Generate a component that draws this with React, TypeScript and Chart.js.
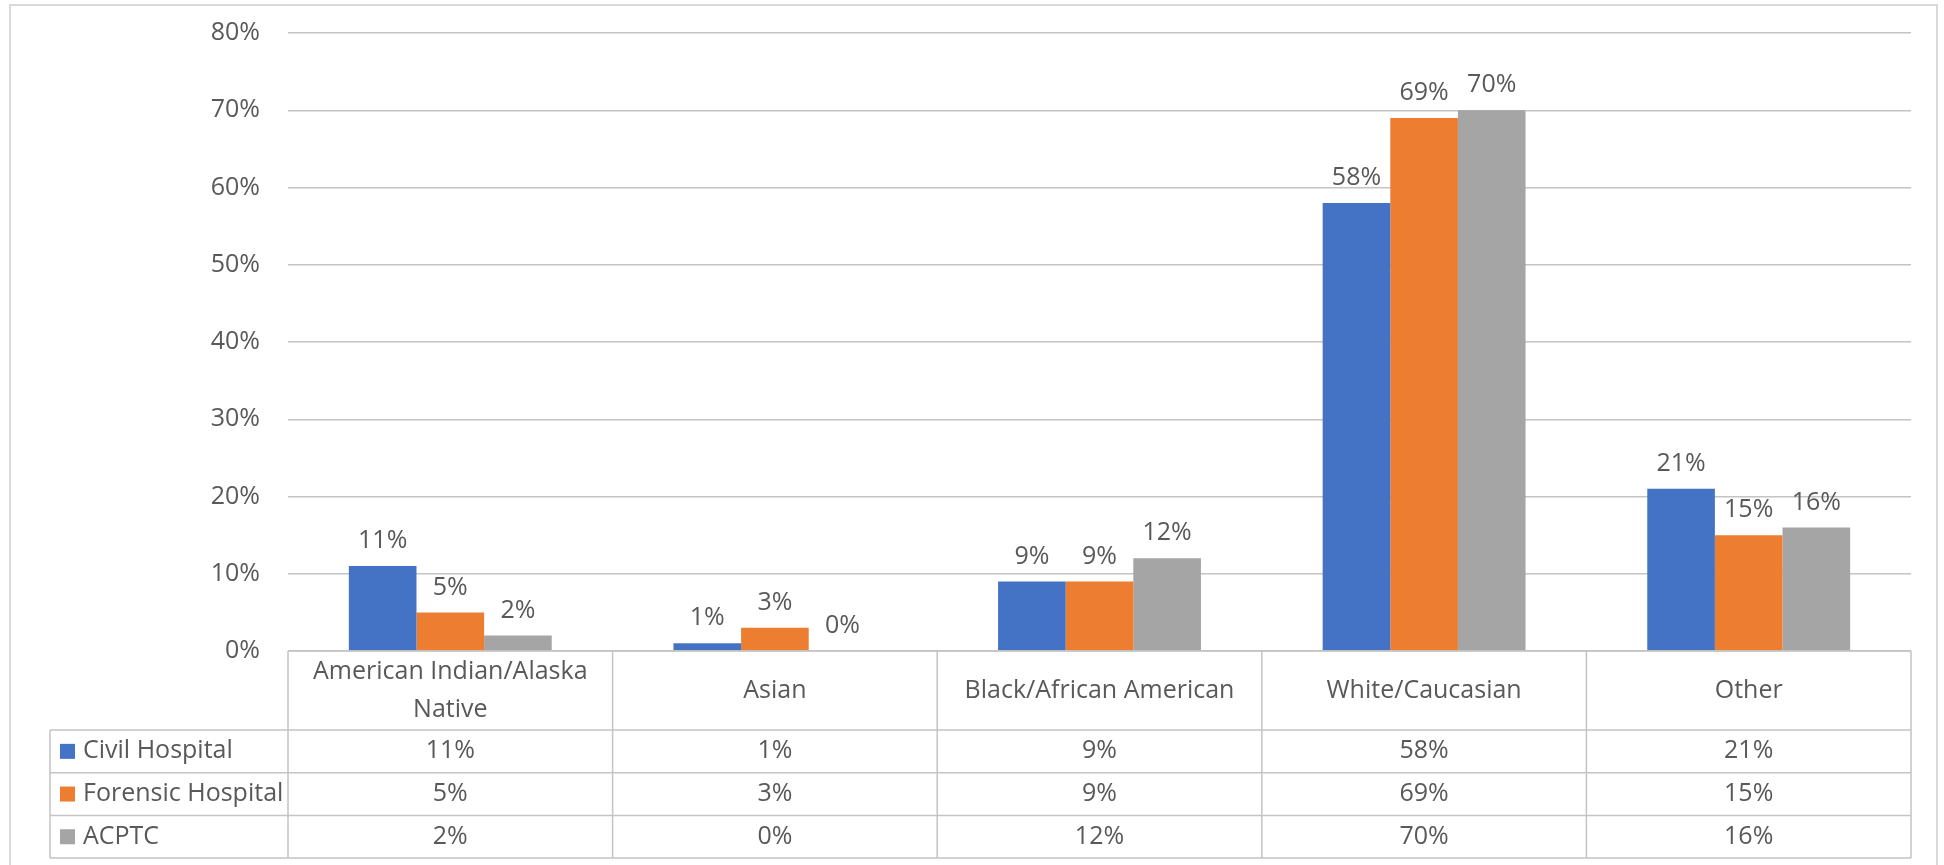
import { useEffect, useRef } from "react";
import { Chart, registerables } from "chart.js";

Chart.register(...registerables);

const categories = [
  "American Indian/Alaska Native",
  "Asian",
  "Black/African American",
  "White/Caucasian",
  "Other",
];
const seriesNames = ["Civil Hospital", "Forensic Hospital", "ACPTC"];
const civilHospital = [11, 1, 9, 58, 21];
const forensicHospital = [5, 3, 9, 69, 15];
const acptc = [2, 0, 12, 70, 16];
const seriesValues = [civilHospital, forensicHospital, acptc];
const seriesColors = ["#4472C4", "#ED7D31", "#A5A5A5"];
const yMin = 0;
const yMax = 80;
const yStep = 10;

const FONT = "'Open Sans', 'Noto Sans', sans-serif";
const FONT_SIZE = 25;
const TEXT_COLOR = "#595959";
const LINE_COLOR = "#c4c4c4";

function wrapText(ctx: CanvasRenderingContext2D, text: string, maxW: number): string[] {
  const words = text.split(" ");
  const lines: string[] = [];
  let cur = "";
  for (const w of words) {
    const test = cur ? cur + " " + w : w;
    if (ctx.measureText(test).width > maxW && cur) {
      lines.push(cur);
      cur = w;
    } else {
      cur = test;
    }
  }
  if (cur) lines.push(cur);
  return lines;
}

const framePlugin = {
  id: "frame",
  beforeDraw(chart: any) {
    const ctx = chart.ctx as CanvasRenderingContext2D;
    ctx.save();
    ctx.fillStyle = "#ffffff";
    ctx.fillRect(0, 0, chart.width, chart.height);
    ctx.strokeStyle = "#d9d9d9";
    ctx.lineWidth = 2;
    ctx.strokeRect(10, 5, 1927, chart.height + 20);
    ctx.restore();
  },
};

const labelPlugin = {
  id: "barLabels",
  afterDatasetsDraw(chart: any) {
    const ctx = chart.ctx as CanvasRenderingContext2D;
    ctx.save();
    ctx.font = `${FONT_SIZE}px ${FONT}`;
    ctx.fillStyle = TEXT_COLOR;
    ctx.textAlign = "center";
    ctx.textBaseline = "middle";
    chart.data.datasets.forEach((ds: any, i: number) => {
      const meta = chart.getDatasetMeta(i);
      meta.data.forEach((bar: any, j: number) => {
        ctx.fillText(ds.data[j] + "%", bar.x, bar.y - 25);
      });
    });
    ctx.restore();
  },
};

const tablePlugin = {
  id: "dataTable",
  afterDraw(chart: any) {
    const ctx = chart.ctx as CanvasRenderingContext2D;
    const area = chart.chartArea;
    const n = categories.length;
    const cw = (area.right - area.left) / n;
    const top = area.bottom;
    const headerH = 79;
    const rowH = 42.7;
    const legendLeft = 50;
    const rowsTop = top + headerH;
    const bottom = rowsTop + rowH * seriesNames.length;

    ctx.save();
    ctx.strokeStyle = LINE_COLOR;
    ctx.lineWidth = 1.5;
    ctx.beginPath();
    ctx.moveTo(area.left, top);
    ctx.lineTo(area.right, top);
    for (let r = 0; r <= seriesNames.length; r++) {
      const y = rowsTop + rowH * r;
      ctx.moveTo(legendLeft, y);
      ctx.lineTo(area.right, y);
    }
    for (let c = 0; c <= n; c++) {
      const x = area.left + cw * c;
      ctx.moveTo(x, top);
      ctx.lineTo(x, bottom);
    }
    ctx.moveTo(legendLeft, rowsTop);
    ctx.lineTo(legendLeft, bottom);
    ctx.stroke();

    ctx.font = `${FONT_SIZE}px ${FONT}`;
    ctx.fillStyle = TEXT_COLOR;
    ctx.textBaseline = "middle";
    ctx.textAlign = "center";
    categories.forEach((cat, c) => {
      const cx = area.left + cw * (c + 0.5);
      const lines = wrapText(ctx, cat, cw - 20);
      const lh = 38;
      const startY = top + headerH / 2 - ((lines.length - 1) * lh) / 2;
      lines.forEach((ln, k) => ctx.fillText(ln, cx, startY + k * lh));
    });
    seriesNames.forEach((name, r) => {
      const cy = rowsTop + rowH * (r + 0.5);
      ctx.fillStyle = seriesColors[r];
      ctx.fillRect(legendLeft + 10, cy - 7.5, 15, 15);
      ctx.fillStyle = TEXT_COLOR;
      ctx.textAlign = "left";
      ctx.fillText(name, legendLeft + 33, cy);
      ctx.textAlign = "center";
      seriesValues[r].forEach((v, c) => {
        ctx.fillText(v + "%", area.left + cw * (c + 0.5), cy);
      });
    });
    ctx.restore();
  },
};

export default function App() {
  const ref = useRef<HTMLCanvasElement | null>(null);
  useEffect(() => {
    if (!ref.current) return;
    const chart = new Chart(ref.current, {
      type: "bar",
      data: {
        labels: categories,
        datasets: seriesNames.map((name, i) => ({
          label: name,
          data: seriesValues[i],
          backgroundColor: seriesColors[i],
          borderWidth: 0,
          categoryPercentage: 0.625,
          barPercentage: 1,
        })),
      },
      options: {
        animation: false,
        responsive: true,
        maintainAspectRatio: false,
        layout: { padding: { left: 0, right: 33, top: 33, bottom: 214 } },
        plugins: { legend: { display: false }, tooltip: { enabled: false } },
        scales: {
          x: { display: false },
          y: {
            min: yMin,
            max: yMax,
            ticks: {
              stepSize: yStep,
              padding: 28,
              color: TEXT_COLOR,
              font: { family: FONT, size: FONT_SIZE },
              callback: (v: any) => v + "%",
            },
            grid: { color: LINE_COLOR, lineWidth: 1.5, drawTicks: false },
            border: { display: false },
            afterFit: (scale: any) => {
              scale.width = 288;
              scale.paddingTop = 0;
              scale.paddingBottom = 0;
            },
          },
        },
      },
      plugins: [framePlugin, labelPlugin, tablePlugin],
    });
    return () => chart.destroy();
  }, []);
  return (
    <div style={{ position: "absolute", left: 0, top: 0, width: 1944, height: 865 }}>
      <canvas ref={ref} />
    </div>
  );
}
